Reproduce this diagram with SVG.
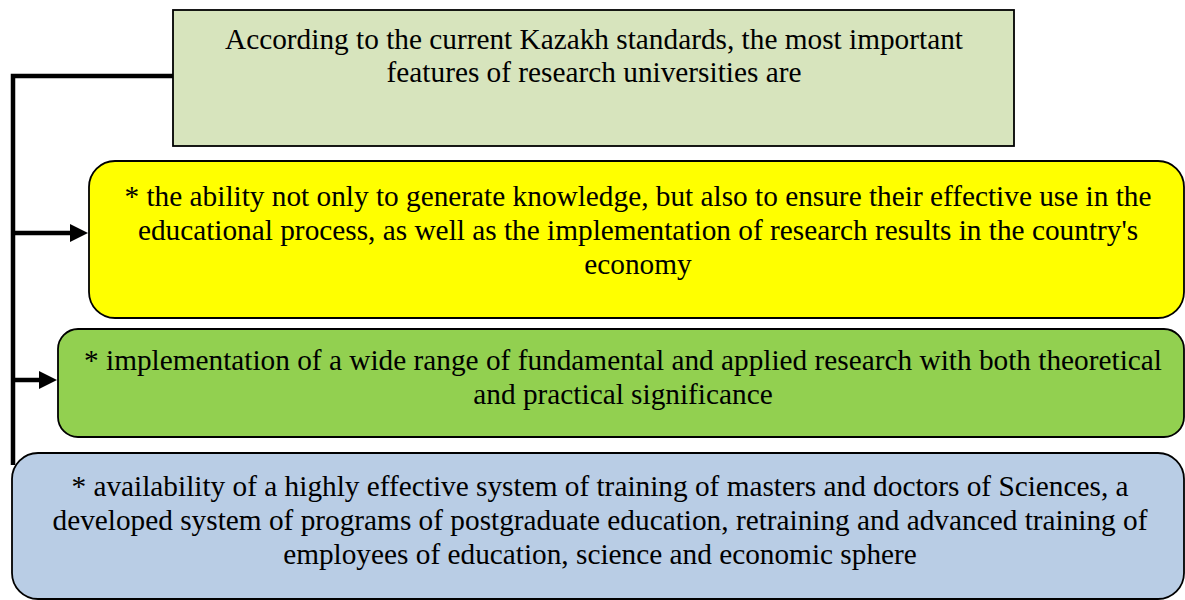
<svg xmlns="http://www.w3.org/2000/svg" width="1185" height="600" viewBox="0 0 1185 600">
<style>
text{font-family:"Liberation Serif","Times New Roman",serif;font-size:29.3px;fill:#000;text-anchor:middle}
.box{stroke:#000;stroke-width:1.8}
.conn{stroke:#000;stroke-width:4.5;fill:none}
</style>
<defs>
<marker id="arr" markerWidth="4" markerHeight="4" refX="0" refY="2" orient="auto" markerUnits="strokeWidth">
<path d="M0,0 L4,2 L0,4 Z" fill="#000"/>
</marker>
</defs>
<rect width="1185" height="600" fill="#fff"/>
<g id="connectors">
<path class="conn" d="M176,76 H13 V465"/>
<path class="conn" d="M13,233 H70" marker-end="url(#arr)"/>
<path class="conn" d="M13,380 H39" marker-end="url(#arr)"/>
</g>
<g id="node-top">
<rect class="box" x="173" y="10" width="841" height="136" fill="#d7e4bd"/>
<text x="594" y="49">According to the current Kazakh standards, the most important</text>
<text x="594" y="82">features of research universities are</text>
</g>
<g id="node-yellow">
<rect class="box" x="89" y="161" width="1095" height="157" rx="26" ry="26" fill="#ffff00"/>
<text x="638" y="206">* the ability not only to generate knowledge, but also to ensure their effective use in the</text>
<text x="638" y="240">educational process, as well as the implementation of research results in the country's</text>
<text x="638" y="274">economy</text>
</g>
<g id="node-green">
<rect class="box" x="58" y="329" width="1126" height="108" rx="20" ry="20" fill="#92d050"/>
<text x="623" y="370">* implementation of a wide range of fundamental and applied research with both theoretical</text>
<text x="623" y="404">and practical significance</text>
</g>
<g id="node-blue">
<rect class="box" x="12" y="453" width="1172" height="146" rx="26" ry="26" fill="#b9cde5"/>
<text x="600" y="496">* availability of a highly effective system of training of masters and doctors of Sciences, a</text>
<text x="600" y="530">developed system of programs of postgraduate education, retraining and advanced training of</text>
<text x="600" y="564">employees of education, science and economic sphere</text>
</g>
</svg>
